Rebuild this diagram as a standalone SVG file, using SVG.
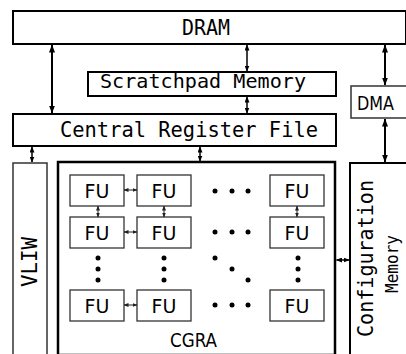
<svg xmlns="http://www.w3.org/2000/svg" width="406" height="354" viewBox="0 0 406 354">
<defs>
<marker id="ah" viewBox="0 0 8 6" refX="7.5" refY="3" markerWidth="8" markerHeight="6" markerUnits="userSpaceOnUse" orient="auto-start-reverse"><path d="M0,0 L8,3 L0,6 z" fill="#000"/></marker>
<marker id="as" viewBox="0 0 6 5" refX="5.5" refY="2.5" markerWidth="6" markerHeight="5" markerUnits="userSpaceOnUse" orient="auto-start-reverse"><path d="M0,0 L6,2.5 L0,5 z" fill="#000"/></marker>
<marker id="ax" viewBox="0 0 5 4" refX="4.5" refY="2" markerWidth="5" markerHeight="4" markerUnits="userSpaceOnUse" orient="auto-start-reverse"><path d="M0,0 L5,2 L0,4 z" fill="#222"/></marker>
</defs>
<style>
.box{fill:#fff;stroke:#000;stroke-width:2}
.thin{fill:#fff;stroke:#333;stroke-width:1.5}
.fu{fill:#fff;stroke:#333;stroke-width:1.3}
.mono{font-family:"DejaVu Sans Mono",monospace;fill:#000}
.sans{font-family:"DejaVu Sans",sans-serif;fill:#000}
.fut{font-family:"DejaVu Sans",sans-serif;font-size:19px;fill:#000;text-anchor:middle}
.ta{stroke:#000;stroke-width:2;fill:none;marker-start:url(#ah);marker-end:url(#ah)}
.sa{stroke:#000;stroke-width:1.5;fill:none;marker-start:url(#as);marker-end:url(#as)}
.xa{stroke:#222;stroke-width:1;fill:none;marker-start:url(#ax);marker-end:url(#ax)}
.dot{fill:#000}
</style>
<g id="dram"><rect class="box" x="13" y="11" width="393" height="33"/><text class="mono" x="182" y="35" font-size="21" textLength="48" lengthAdjust="spacingAndGlyphs">DRAM</text></g>
<g id="scratchpad"><rect class="box" x="88" y="72" width="248" height="24"/><text class="mono" x="100" y="88" font-size="20" textLength="206" lengthAdjust="spacingAndGlyphs">Scratchpad Memory</text></g>
<g id="dma"><rect class="thin" x="351" y="86" width="56" height="32"/><text class="sans" x="357" y="110" font-size="19" textLength="37" lengthAdjust="spacingAndGlyphs">DMA</text></g>
<g id="crf"><rect class="box" x="13" y="114" width="323" height="32"/><text class="mono" x="60" y="137" font-size="21" textLength="258" lengthAdjust="spacingAndGlyphs">Central Register File</text></g>
<g id="vliw"><rect class="thin" x="13" y="163" width="34" height="192"/><text class="mono" transform="translate(37,287) rotate(-90)" font-size="21" textLength="50" lengthAdjust="spacingAndGlyphs">VLIW</text></g>
<g id="cgra"><rect x="58" y="162" width="277" height="193" fill="#fff" stroke="#000" stroke-width="2.5"/><text class="sans" x="170" y="347" font-size="19" textLength="47" lengthAdjust="spacingAndGlyphs">CGRA</text></g>
<g id="config"><rect class="box" x="350" y="163" width="57" height="192"/><text class="mono" transform="translate(373,337) rotate(-90)" font-size="21" textLength="157" lengthAdjust="spacingAndGlyphs">Configuration</text><text class="mono" transform="translate(398,293) rotate(-90)" font-size="17" textLength="58" lengthAdjust="spacingAndGlyphs">Memory</text></g>
<g id="fu11"><rect class="fu" x="70" y="175" width="54" height="31"/><text class="fut" x="97" y="198">FU</text></g>
<g id="fu12"><rect class="fu" x="137" y="175" width="54" height="31"/><text class="fut" x="164" y="198">FU</text></g>
<g id="fu14"><rect class="fu" x="270" y="175" width="54" height="31"/><text class="fut" x="297" y="198">FU</text></g>
<g id="fu21"><rect class="fu" x="70" y="217" width="54" height="31"/><text class="fut" x="97" y="240">FU</text></g>
<g id="fu22"><rect class="fu" x="137" y="217" width="54" height="31"/><text class="fut" x="164" y="240">FU</text></g>
<g id="fu24"><rect class="fu" x="270" y="217" width="54" height="31"/><text class="fut" x="297" y="240">FU</text></g>
<g id="fu31"><rect class="fu" x="70" y="290" width="54" height="31"/><text class="fut" x="97" y="313">FU</text></g>
<g id="fu32"><rect class="fu" x="137" y="290" width="54" height="31"/><text class="fut" x="164" y="313">FU</text></g>
<g id="fu34"><rect class="fu" x="270" y="290" width="54" height="31"/><text class="fut" x="297" y="313">FU</text></g>
<g id="ellipses">
<circle class="dot" cx="215" cy="191" r="2.5"/><circle class="dot" cx="232" cy="191" r="2.5"/><circle class="dot" cx="248" cy="191" r="2.5"/>
<circle class="dot" cx="215" cy="232" r="2.5"/><circle class="dot" cx="232" cy="232" r="2.5"/><circle class="dot" cx="248" cy="232" r="2.5"/>
<circle class="dot" cx="215" cy="305" r="2.5"/><circle class="dot" cx="232" cy="305" r="2.5"/><circle class="dot" cx="248" cy="305" r="2.5"/>
<circle class="dot" cx="215" cy="258" r="2.5"/><circle class="dot" cx="232" cy="269" r="2.5"/><circle class="dot" cx="248" cy="280" r="2.5"/>
<circle class="dot" cx="98" cy="258" r="2.5"/><circle class="dot" cx="98" cy="269" r="2.5"/><circle class="dot" cx="98" cy="280" r="2.5"/>
<circle class="dot" cx="164" cy="258" r="2.5"/><circle class="dot" cx="164" cy="269" r="2.5"/><circle class="dot" cx="164" cy="280" r="2.5"/>
<circle class="dot" cx="298" cy="258" r="2.5"/><circle class="dot" cx="298" cy="269" r="2.5"/><circle class="dot" cx="298" cy="280" r="2.5"/>
</g>
<g id="connectors">
<line class="ta" x1="52" y1="45" x2="52" y2="113"/>
<line class="sa" x1="247" y1="45" x2="247" y2="71"/>
<line class="sa" x1="247" y1="97" x2="247" y2="113"/>
<line class="ta" x1="385" y1="45" x2="385" y2="85"/>
<line class="ta" x1="385" y1="119" x2="385" y2="162"/>
<line class="sa" x1="32" y1="147" x2="32" y2="162"/>
<line class="sa" x1="200" y1="147" x2="200" y2="161"/>
<line class="sa" x1="336.5" y1="260" x2="349" y2="260"/>
<line class="xa" x1="124" y1="190" x2="137" y2="190"/>
<line class="xa" x1="124" y1="232" x2="137" y2="232"/>
<line class="xa" x1="124" y1="305" x2="137" y2="305"/>
<line class="xa" x1="98" y1="206" x2="98" y2="217"/>
<line class="xa" x1="164" y1="206" x2="164" y2="217"/>
<line class="xa" x1="297" y1="206" x2="297" y2="217"/>
</g>
</svg>
